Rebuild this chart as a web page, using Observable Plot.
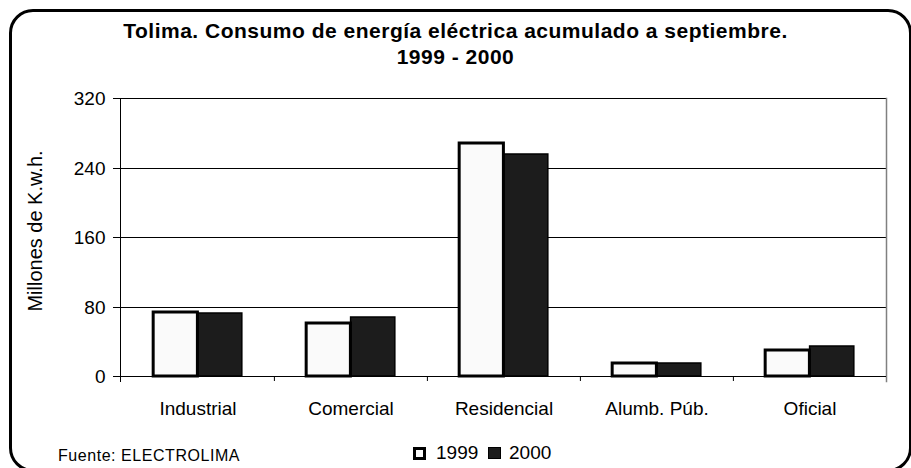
<!DOCTYPE html>
<html>
<head>
<meta charset="utf-8">
<script src="https://cdn.jsdelivr.net/npm/d3@7"></script>
<script src="https://cdn.jsdelivr.net/npm/@observablehq/plot@0.6"></script>
<style>
  html, body { margin: 0; padding: 0; background: #fff; }
  #wrap { position: relative; width: 911px; height: 468px; overflow: hidden; background: #fff;
          font-family: "Liberation Sans", Arial, sans-serif; color: #000; }
  #border { position: absolute; left: 9px; top: 9px; width: 903px; height: 463px;
            border: 3.5px solid #000; border-radius: 24px; box-sizing: border-box; }
  .title { position: absolute; left: 0; width: 911px; text-align: center; font-weight: bold;
           font-size: 21px; line-height: 26px; letter-spacing: 0.5px; white-space: nowrap; }
  #chart { position: absolute; left: 0; top: 70px; }
  #ylabel { position: absolute; left: 35px; top: 231px; transform: translate(-50%, -50%) rotate(-90deg);
            font-size: 20px; line-height: 20px; white-space: nowrap; }
  .lg { position: absolute; font-size: 19px; line-height: 19px; white-space: nowrap; }
  .sq { position: absolute; box-sizing: border-box; }
  #source { position: absolute; left: 58px; top: 448px; font-size: 16px; line-height: 16px;
            letter-spacing: 0.55px; white-space: nowrap; }
</style>
</head>
<body>
<div id="wrap">
  <div id="border"></div>
  <div class="title" style="top:18px">Tolima. Consumo de energía eléctrica acumulado a septiembre.</div>
  <div class="title" style="top:44px">1999 - 2000</div>
  <div id="chart"></div>
  <div id="ylabel"></div>
  <div id="legend"></div>
  <div id="source"></div>
</div>
<script>
// ---- data ----
const categories = ["Industrial", "Comercial", "Residencial", "Alumb. Púb.", "Oficial"];
const values1999 = [74, 61, 268, 15.5, 30];
const values2000 = [72.5, 68, 255, 15, 35];
const seriesNames = ["1999", "2000"];
const yTicks = [0, 80, 160, 240, 320];
const yLabel = "Millones de K.w.h.";
const sourceText = "Fuente: ELECTROLIMA";

// ---- layout ----
const W = 911, H = 360, ML = 120, MR = 25, MT = 28, MB = 49;
const bw = (W - ML - MR) / categories.length;
const barW = bw * 0.29;
const fill1999 = "#fafafa", fill2000 = "#1c1c1c";

const rows = categories.map((c, i) => ({cat: c, v1999: values1999[i], v2000: values2000[i]}));

const chart = Plot.plot({
  width: W, height: H,
  marginLeft: ML, marginRight: MR, marginTop: MT, marginBottom: MB,
  style: {fontFamily: '"Liberation Sans", Arial, sans-serif', fontSize: "19px", color: "#000",
          background: "transparent", overflow: "visible"},
  x: {domain: categories, padding: 0, label: null},
  y: {domain: [0, 320], insetBottom: 5, round: true, label: null},
  marks: [
    Plot.gridY({ticks: yTicks.slice(1), stroke: "#000", strokeOpacity: 1, strokeWidth: 1}),
    Plot.frame({anchor: "left", stroke: "#000"}),
    Plot.frame({anchor: "right", stroke: "#808080", strokeWidth: 1.5}),
    Plot.ruleY([0], {stroke: "#000"}),
    Plot.tickX(categories.slice(1), {x: d => d, dx: -bw / 2, insetTop: H - MT - MB - 5, stroke: "#000"}),
    Plot.barY(rows, {x: "cat", y: "v2000", fill: fill2000, stroke: "#000", strokeWidth: 1.5,
                     insetLeft: bw / 2, insetRight: bw / 2 - barW}),
    Plot.barY(rows, {x: "cat", y: "v1999", fill: fill1999, stroke: "#000", strokeWidth: 3,
                     insetLeft: bw / 2 - barW, insetRight: bw / 2}),
    Plot.axisY({ticks: yTicks, tickSize: 7, tickPadding: 8, fontSize: 19, label: null}),
    Plot.axisX({tickSize: 0, tickPadding: 20, fontSize: 19, label: null})
  ]
});
document.getElementById("chart").appendChild(chart);
document.getElementById("ylabel").textContent = yLabel;
document.getElementById("source").textContent = sourceText;

// legend
const lg = document.getElementById("legend");
const legendItems = [
  {name: seriesNames[0], fill: fill1999, border: "3px solid #000", sqLeft: 413, txtLeft: 436, size: 13},
  {name: seriesNames[1], fill: fill2000, border: "1px solid #000", sqLeft: 488, txtLeft: 509, size: 12.5}
];
for (const it of legendItems) {
  const sq = document.createElement("div");
  sq.className = "sq";
  Object.assign(sq.style, {left: it.sqLeft + "px", top: "446.5px", width: it.size + "px", height: it.size + "px",
                           background: it.fill, border: it.border});
  lg.appendChild(sq);
  const t = document.createElement("div");
  t.className = "lg";
  Object.assign(t.style, {left: it.txtLeft + "px", top: "443px"});
  t.textContent = it.name;
  lg.appendChild(t);
}
</script>
</body>
</html>
